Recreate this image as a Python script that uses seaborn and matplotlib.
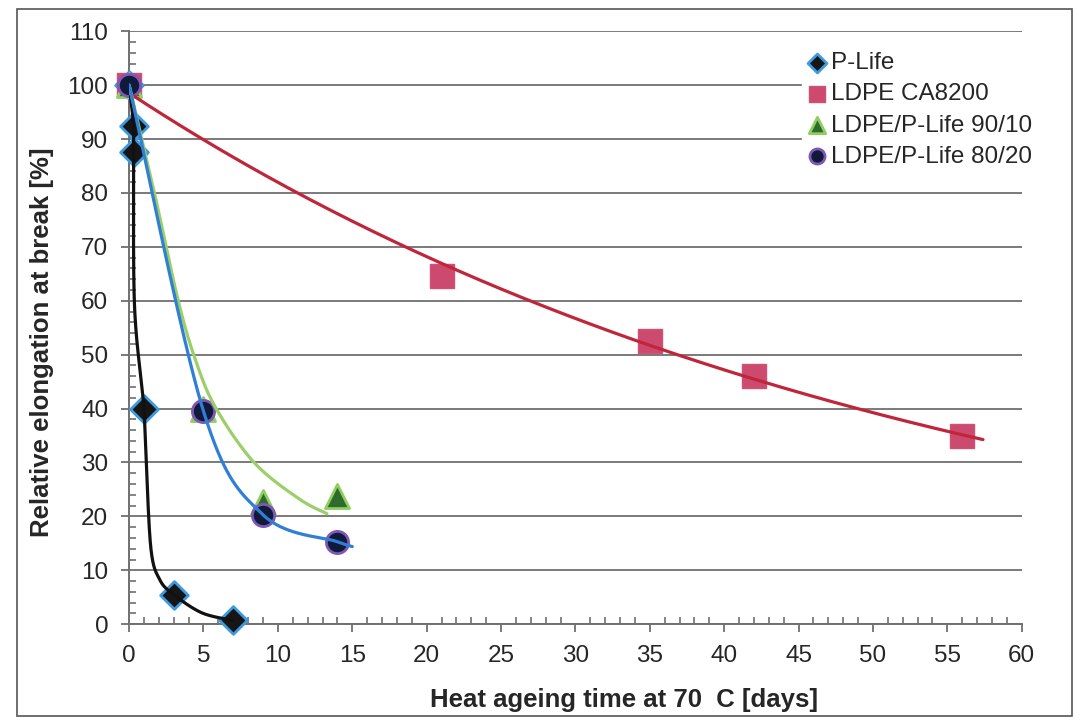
import numpy as np
import matplotlib
matplotlib.use("Agg")
import matplotlib.pyplot as plt
from matplotlib.ticker import MultipleLocator
from matplotlib.patches import Rectangle
import seaborn as sns

# marker data
p_life_days = [0, 0.3, 0.3, 1.0, 3.0, 7.0]
p_life_elong = [100, 92.5, 87.5, 40, 5.5, 0.7]

ldpe_days = [0, 21, 35, 42, 56]
ldpe_elong = [100, 64.5, 52.5, 46, 35]

blend90_days = [0, 5, 9, 14]
blend90_elong = [100, 40, 22.6, 23.8]

blend80_days = [0, 5, 9, 14]
blend80_elong = [100, 39.5, 20.3, 15.3]

# hand drawn curves
p_life_curve_days = [0, 0.3, 0.3, 0.35, 0.83, 1.0, 1.15, 1.47, 2.05, 3.0, 4.9, 7.0]
p_life_curve_elong = [100, 92.5, 87.5, 60, 44.6, 40, 30, 13.9, 8.3, 5.5, 2.1, 0.7]

blend90_curve_days = [0, 1.7, 3.3, 4.5, 5.85, 8.4, 11.4, 13.3]
blend90_curve_elong = [100, 80, 60, 48.7, 40, 30, 23.3, 20.5]

blend80_curve_days = [0, 5, 9, 14, 15.0]
blend80_curve_elong = [100, 39.5, 20.3, 15.3, 14.4]

ldpe_curve_end = 57.4

labels = ["P-Life", "LDPE CA8200", "LDPE/P-Life 90/10", "LDPE/P-Life 80/20"]

X_MAX, Y_MAX = 60, 110


def smooth(xs, ys, n=40):
    # Catmull-Rom through the points, done in rough screen units
    sx, sy = 893 / X_MAX, 593 / Y_MAX
    P = np.column_stack([np.asarray(xs, float) * sx, np.asarray(ys, float) * sy])
    P = np.vstack([P[0], P, P[-1]])
    t = np.linspace(0, 1, n)[:, None]
    h00 = 2 * t**3 - 3 * t**2 + 1
    h10 = t**3 - 2 * t**2 + t
    h01 = -2 * t**3 + 3 * t**2
    h11 = t**3 - t**2
    segs = []
    for i in range(1, len(P) - 2):
        p0, p1, p2, p3 = P[i - 1], P[i], P[i + 1], P[i + 2]
        m1 = (p2 - p0) / 2
        m2 = (p3 - p1) / 2
        segs.append(h00 * p1 + h10 * m1 + h01 * p2 + h11 * m2)
    out = np.vstack(segs)
    return out[:, 0] / sx, out[:, 1] / sy


sns.set_style("white")
plt.rcParams["font.family"] = ["Liberation Sans", "DejaVu Sans"]

fig = plt.figure(figsize=(10.76, 7.25), dpi=100)
ax = fig.add_axes([0.12, 0.139, 0.8295, 0.818])

sns.scatterplot(x=p_life_days, y=p_life_elong, marker="D", s=200,
                color="#161616", edgecolor="#3d9be0", linewidth=2,
                label=labels[0], ax=ax, zorder=3, clip_on=False)
sns.scatterplot(x=ldpe_days, y=ldpe_elong, marker="s", s=275,
                color="#cc4a6e", edgecolor="#d0507a", linewidth=1,
                label=labels[1], ax=ax, zorder=3, clip_on=False)
sns.scatterplot(x=blend90_days, y=blend90_elong, marker="^", s=300,
                color="#2f6b2c", edgecolor="#8fcf5f", linewidth=2,
                label=labels[2], ax=ax, zorder=3, clip_on=False)
sns.scatterplot(x=blend80_days, y=blend80_elong, marker="o", s=255,
                color="#121a3c", edgecolor="#7d58b5", linewidth=2,
                label=labels[3], ax=ax, zorder=3, clip_on=False)

# curves drawn on top of the markers
cx, cy = smooth(p_life_curve_days, p_life_curve_elong)
sns.lineplot(x=cx, y=cy, sort=False, estimator=None, color="#111111",
             linewidth=2.3, legend=False, ax=ax, zorder=4)

fit = np.polyfit(ldpe_days, np.log(ldpe_elong), 1)
rx = np.linspace(0, ldpe_curve_end, 200)
sns.lineplot(x=rx, y=np.exp(np.polyval(fit, rx)), sort=False, estimator=None,
             color="#c0263a", linewidth=2.3, legend=False, ax=ax, zorder=4)

gx, gy = smooth(blend90_curve_days, blend90_curve_elong)
sns.lineplot(x=gx, y=gy, sort=False, estimator=None, color="#9ccf6a",
             linewidth=2.3, legend=False, ax=ax, zorder=4)

bx, by = smooth(blend80_curve_days, blend80_curve_elong)
sns.lineplot(x=bx, y=by, sort=False, estimator=None, color="#2f7fd6",
             linewidth=2.3, legend=False, ax=ax, zorder=4)

ax.set_xlim(0, X_MAX)
ax.set_ylim(0, Y_MAX)
ax.xaxis.set_major_locator(MultipleLocator(5))
ax.xaxis.set_minor_locator(MultipleLocator(1))
ax.yaxis.set_major_locator(MultipleLocator(10))
ax.yaxis.set_minor_locator(MultipleLocator(2))

ax.grid(axis="y", which="major", color="#7a7a7a", linewidth=1.4)
ax.set_axisbelow(True)
for side in ["top", "right"]:
    ax.spines[side].set_visible(False)
for side in ["left", "bottom"]:
    ax.spines[side].set_color("#707070")
    ax.spines[side].set_linewidth(1.4)

ax.tick_params(which="major", direction="out", length=6, width=1.3,
               color="#707070", labelsize=17.5, pad=9)
ax.tick_params(which="minor", direction="in", length=5, width=1.2,
               color="#707070")
ax.tick_params(axis="x", which="both", bottom=True)
ax.tick_params(axis="y", which="both", left=True)

ax.set_xlabel("Heat ageing time at 70  C [days]", fontsize=18.5, fontweight="bold")
ax.set_ylabel("Relative elongation at break [%]", fontsize=18.5, fontweight="bold")
ax.xaxis.set_label_coords(0.555, -0.108)
ax.yaxis.set_label_coords(-0.084, 0.475)

leg = ax.legend(loc="upper left", bbox_to_anchor=(0.745, 0.935),
                bbox_transform=fig.transFigure, frameon=True, fontsize=17.5,
                markerscale=0.68, handletextpad=0.1, handlelength=0.9,
                labelspacing=0.38, borderpad=0.2, borderaxespad=0)
leg.get_frame().set_facecolor("white")
leg.get_frame().set_edgecolor("white")
leg.get_frame().set_alpha(1)

# chart area border
fig.patches.append(Rectangle((0.016, 0.012), 0.98, 0.976, transform=fig.transFigure,
                             fill=False, edgecolor="#555555", linewidth=1.2))

plt.savefig("out.png", dpi=100)
